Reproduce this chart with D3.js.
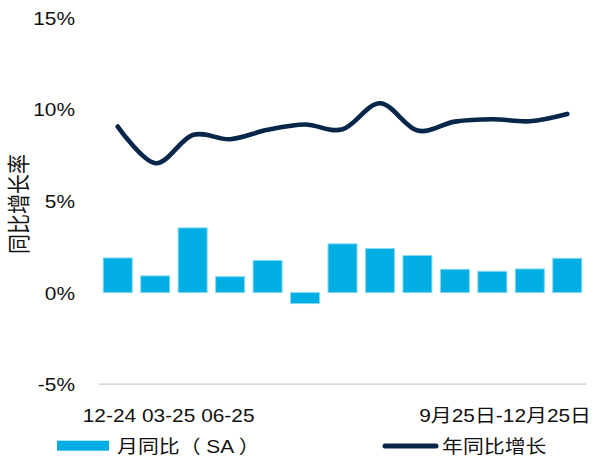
<!DOCTYPE html>
<html>
<head>
<meta charset="utf-8">
<script src="https://cdn.jsdelivr.net/npm/d3@7"></script>
<style>
  html, body { margin: 0; padding: 0; background: #fff; }
  svg { display: block; }
  text { font-family: "Liberation Sans", Arial, "Noto Sans CJK SC", sans-serif; fill: #111; }
</style>
</head>
<body>
<svg id="chart" width="596" height="459"></svg>
<script>
// Monthly periods, Dec 2024 through Dec 2025
const periods = ["12-24","01-25","02-25","03-25","04-25","05-25","06-25",
                 "07-25","08-25","09-25","10-25","11-25","12-25"];
// Month-on-month change, seasonally adjusted (%)
const momSA = [1.89, 0.91, 3.53, 0.87, 1.75, -0.60, 2.66, 2.40, 2.02, 1.27, 1.16, 1.29, 1.87];
// Year-on-year growth (%)
const yoyGrowth = [9.06, 7.06, 8.60, 8.37, 8.88, 9.17, 8.91, 10.33, 8.84, 9.33, 9.46, 9.35, 9.75];
// Y axis ticks (%)
const yTicks = [-5, 0, 5, 10, 15];
// X axis label text
const xLabelLeft = "12-24 03-25 06-25";
const xLabelRight = "9月25日-12月25日";
const yTitle = "同比增长率";
const legendBar = "月同比（ SA ）";
const legendLine = "年同比增长";

const BAR_COLOR = "#00aee3";
const LINE_COLOR = "#07274a";
const SX = 1.13; // horizontal glyph stretch

const svg = d3.select("#chart");

const x = d3.scaleBand()
  .domain(periods)
  .range([99, 586])
  .paddingInner(0.226)
  .paddingOuter(0.113);

const y = d3.scaleLinear()
  .domain([-5, 15])
  .range([384.2, 17.7]);

// Y axis labels
const yAxis = d3.axisLeft(y)
  .tickValues(yTicks)
  .tickSize(0)
  .tickFormat(d => d + "%");

const gy = svg.append("g")
  .attr("transform", "translate(75,0)")
  .call(yAxis);
gy.select(".domain").remove();
gy.selectAll("text")
  .attr("x", 0)
  .attr("dy", "0.36em")
  .attr("transform", `scale(${SX},1)`)
  .style("font-size", "18.5px")
  .style("font-family", "'Liberation Sans', Arial, sans-serif")
  .attr("fill", "#111");

// Baseline at the bottom of the value range
svg.append("line")
  .attr("x1", x.range()[0]).attr("x2", x.range()[1])
  .attr("y1", y(-5)).attr("y2", y(-5))
  .attr("stroke", "#c8c8c8")
  .attr("stroke-width", 1.2);

// Bars
svg.append("g")
  .selectAll("rect")
  .data(periods)
  .join("rect")
  .attr("x", d => x(d))
  .attr("width", x.bandwidth())
  .attr("y", (d, i) => y(Math.max(0, momSA[i])))
  .attr("height", (d, i) => Math.abs(y(momSA[i]) - y(0)))
  .attr("fill", BAR_COLOR)
  .attr("stroke", "#86d8f3")
  .attr("stroke-width", 1);

// Smoothed growth line
const line = d3.line()
  .x((d, i) => x(periods[i]) + x.bandwidth() / 2)
  .y(d => y(d))
  .curve(d3.curveCardinal.tension(0));

svg.append("path")
  .datum(yoyGrowth)
  .attr("d", line)
  .attr("fill", "none")
  .attr("stroke", LINE_COLOR)
  .attr("stroke-width", 4.6)
  .attr("stroke-linecap", "round")
  .attr("stroke-linejoin", "round");

// Stretched text helper
function label(xp, yp, str, size, anchor) {
  return svg.append("text")
    .attr("transform", `translate(${xp},${yp}) scale(${SX},1)`)
    .attr("text-anchor", anchor || "start")
    .style("font-size", size + "px")
    .text(str);
}

// X axis labels
label(82.7, 422.4, xLabelLeft, 18.5, "start");
label(591, 422.4, xLabelRight, 18.5, "end");

// Y axis title
svg.append("text")
  .attr("transform", `translate(27,204) scale(${SX},1) rotate(-90)`)
  .attr("text-anchor", "middle")
  .style("font-size", "20px")
  .text(yTitle);

// Legend
svg.append("rect")
  .attr("x", 57).attr("y", 440.7)
  .attr("width", 52).attr("height", 10)
  .attr("fill", BAR_COLOR);
label(117, 452.5, legendBar, 18.5, "start");

svg.append("line")
  .attr("x1", 385).attr("x2", 436)
  .attr("y1", 446).attr("y2", 446)
  .attr("stroke", LINE_COLOR)
  .attr("stroke-width", 5)
  .attr("stroke-linecap", "round");
label(442, 452.5, legendLine, 18.5, "start");
</script>
</body>
</html>
